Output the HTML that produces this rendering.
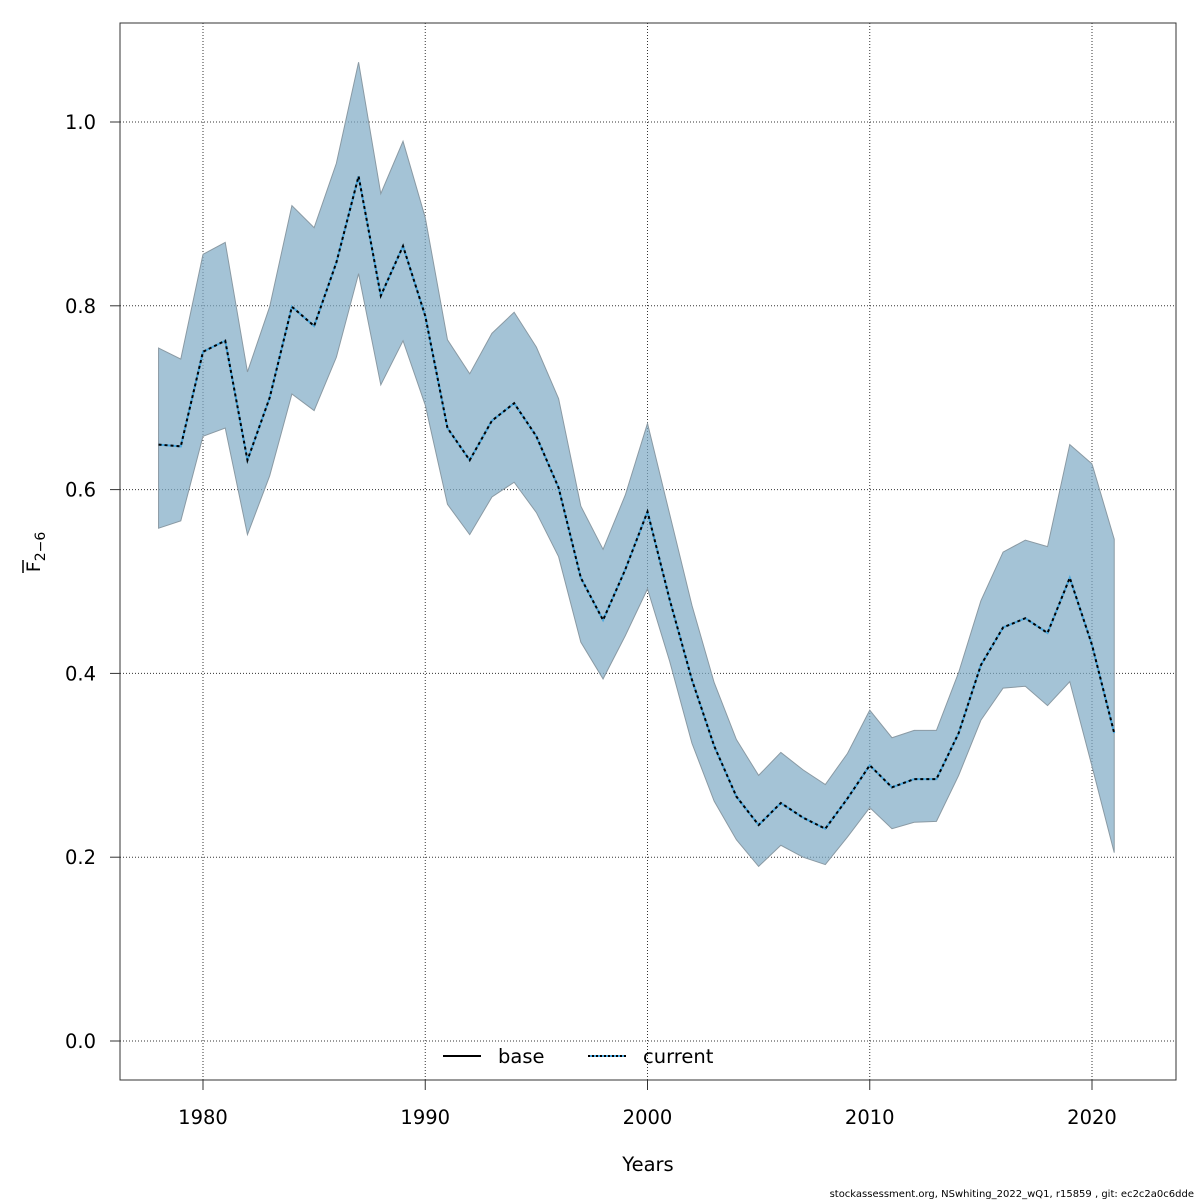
<!DOCTYPE html>
<html><head><meta charset="utf-8"><style>
body{margin:0;background:#fff;}
svg{display:block;font-family:"DejaVu Sans","Liberation Sans",sans-serif;}
</style></head><body>
<svg id="chart" width="1200" height="1200" viewBox="0 0 1200 1200"></svg>
<script>
const years=[];for(let y=1978;y<=2021;y++)years.push(y);
const meanF=[0.649,0.647,0.750,0.762,0.632,0.700,0.799,0.778,0.847,0.941,0.811,0.865,0.789,0.667,0.632,0.675,0.694,0.658,0.602,0.504,0.458,0.513,0.576,0.480,0.393,0.321,0.266,0.235,0.259,0.243,0.231,0.264,0.300,0.276,0.285,0.285,0.335,0.409,0.450,0.460,0.444,0.504,0.431,0.335];
const lowF=[0.558,0.566,0.658,0.667,0.551,0.615,0.704,0.686,0.744,0.835,0.714,0.762,0.692,0.584,0.551,0.592,0.608,0.575,0.527,0.434,0.394,0.441,0.492,0.413,0.324,0.261,0.219,0.190,0.213,0.200,0.192,0.222,0.254,0.231,0.238,0.239,0.289,0.349,0.384,0.386,0.365,0.391,0.299,0.205];
const highF=[0.754,0.742,0.856,0.869,0.728,0.799,0.909,0.885,0.955,1.065,0.922,0.979,0.896,0.763,0.726,0.770,0.793,0.755,0.699,0.582,0.535,0.594,0.672,0.573,0.474,0.390,0.328,0.289,0.314,0.295,0.279,0.313,0.360,0.330,0.338,0.338,0.401,0.479,0.532,0.545,0.538,0.649,0.628,0.546];
const xTicks=[1980,1990,2000,2010,2020];
const yTicks=[0,0.2,0.4,0.6,0.8,1.0];
const yTickLabels=["0.0","0.2","0.4","0.6","0.8","1.0"];

const NS="http://www.w3.org/2000/svg";
const svg=document.getElementById('chart');
const X=v=>203+(v-1980)*(1092-203)/40;
const Y=v=>1041-v*919;
function mk(tag,attrs,parent){const e=document.createElementNS(NS,tag);for(const k in attrs)e.setAttribute(k,attrs[k]);(parent||svg).appendChild(e);return e;}

xTicks.forEach(t=>{const l=mk('line',{x1:X(t),x2:X(t),y1:23,y2:1080,stroke:'#333','stroke-width':1,'stroke-dasharray':'1,2'});

});
yTicks.forEach(t=>{const l=mk('line',{x1:120,x2:1176,y1:Y(t),y2:Y(t),stroke:'#333','stroke-width':1,'stroke-dasharray':'1,2'});

});

let pts=years.map((y,i)=>X(y)+','+Y(highF[i]));
for(let i=years.length-1;i>=0;i--)pts.push(X(years[i])+','+Y(lowF[i]));
const band=mk('polygon',{points:pts.join(' '),fill:'#7eaac4','fill-opacity':0.7,stroke:'#8a9aa4','stroke-width':1});



const lp=years.map((y,i)=>X(y)+','+Y(meanF[i])).join(' ');
const l1=mk('polyline',{points:lp,fill:'none',stroke:'#4aa8de','stroke-width':2});


const l2=mk('polyline',{points:lp,fill:'none',stroke:'#000','stroke-width':2,'stroke-dasharray':'3,3'});



const fr=mk('rect',{x:120,y:23,width:1056,height:1057,fill:'none',stroke:'#333','stroke-width':1});



xTicks.forEach(t=>{mk('line',{x1:X(t),x2:X(t),y1:1080,y2:1090,stroke:'#333'});
const tx=mk('text',{x:X(t),y:1124,'text-anchor':'middle','font-size':19.5,fill:'#000'});tx.textContent=t;

});
yTicks.forEach((t,i)=>{mk('line',{x1:110,x2:120,y1:Y(t),y2:Y(t),stroke:'#333'});
const tx=mk('text',{x:96,y:Y(t)+7,'text-anchor':'end','font-size':19.5,fill:'#000'});tx.textContent=yTickLabels[i];

});
</script>
<svg style="position:absolute;left:0;top:0" width="1200" height="1200">
<text x="648" y="1171" text-anchor="middle" font-size="19.5" font-family="DejaVu Sans,sans-serif">Years</text>
<g transform="translate(40,552) rotate(-90)">
<text x="0" y="0" text-anchor="middle" font-size="19" font-family="DejaVu Sans,sans-serif">F<tspan font-size="14" dy="5">2−6</tspan></text>
<line x1="-21" x2="-8" y1="-17" y2="-17" stroke="#000" stroke-width="1.5"/>
</g>
<g>
<line x1="443" x2="481" y1="1056" y2="1056" stroke="#000" stroke-width="2"/>
<text x="498" y="1063" font-size="19.5" font-family="DejaVu Sans,sans-serif">base</text>
<line x1="588" x2="626" y1="1056" y2="1056" stroke="#4aa8de" stroke-width="2"/>
<line x1="588" x2="626" y1="1056" y2="1056" stroke="#000" stroke-width="2" stroke-dasharray="2,2"/>
<text x="643" y="1063" font-size="19.5" font-family="DejaVu Sans,sans-serif">current</text>
</g>
<text x="1194" y="1197" text-anchor="end" font-size="10" font-family="DejaVu Sans,sans-serif">stockassessment.org, NSwhiting_2022_wQ1, r15859 , git: ec2c2a0c6dde</text>
</svg>
</body></html>
